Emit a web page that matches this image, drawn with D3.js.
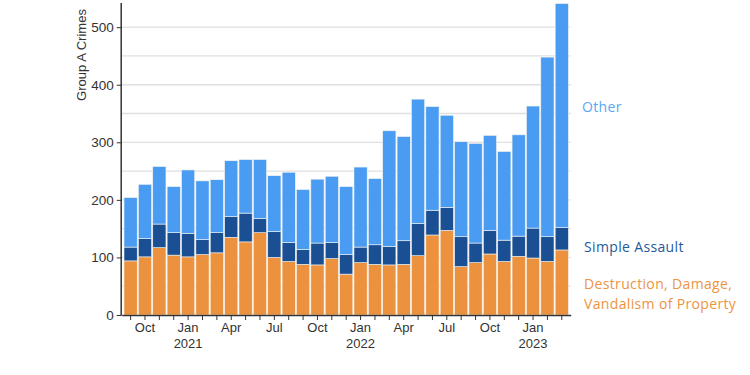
<!DOCTYPE html>
<html><head><meta charset="utf-8">
<script src="https://cdn.jsdelivr.net/npm/d3@7"></script>
<style>body{margin:0;background:#fff}svg{display:block}</style>
</head><body>
<svg id="chart" width="750" height="375"></svg>
<script>
const months = ["2020-09","2020-10","2020-11","2020-12","2021-01","2021-02","2021-03","2021-04","2021-05","2021-06","2021-07","2021-08","2021-09","2021-10","2021-11","2021-12","2022-01","2022-02","2022-03","2022-04","2022-05","2022-06","2022-07","2022-08","2022-09","2022-10","2022-11","2022-12","2023-01","2023-02","2023-03"];
const vandalism = [94,101,117,104,101,105,108,135,127,143,100,93,88,87,98,71,91,88,87,88,103,139,147,84,91,106,93,102,99,93,113];
const simpleAssault = [24,32,41,39,41,26,35,36,50,25,45,33,26,38,28,34,27,34,32,41,56,43,40,52,34,41,37,35,52,43,39];
const other = [86,94,100,80,110,102,92,97,93,102,97,122,104,111,115,118,139,115,201,181,216,180,160,165,173,165,154,176,212,312,389];
const seriesNames = ["Destruction, Damage,\nVandalism of Property","Simple Assault","Other"];
const colors = ["#ec913e","#1b4f94","#4a9cf3"];
const labelColors = ["#ec943f","#1f5a9c","#5aa6f2"];
const yTicks = [0,100,200,300,400,500];
const gridTicks = [50,100,150,200,250,300,350,400,450,500];

const svg = d3.select("#chart");
const mLeft = 121.7, mRight = 570.7, mTop = 3, mBottom = 315;

const data = months.map((m,i)=>({month:m, v0:vandalism[i], v1:simpleAssault[i], v2:other[i]}));
const stack = d3.stack().keys(["v0","v1","v2"]);
const series = stack(data);

const x = d3.scaleBand().domain(months).range([mLeft,mRight]).paddingInner(0.08).paddingOuter(0.16);
const y = d3.scaleLinear().domain([0,542]).range([mBottom,mTop]);

// gridlines
svg.append("g").selectAll("line").data(gridTicks).join("line")
  .attr("x1",mLeft).attr("x2",mRight)
  .attr("y1",d=>y(d)).attr("y2",d=>y(d))
  .attr("stroke","#e0e0e0").attr("stroke-width",1.3);

// bars
svg.append("g").selectAll("g").data(series).join("g")
  .attr("fill",(d,i)=>colors[i])
  .selectAll("rect").data(d=>d).join("rect")
  .attr("x",d=>x(d.data.month))
  .attr("width",x.bandwidth())
  .attr("y",d=>y(d[1]))
  .attr("height",d=>y(d[0])-y(d[1]))
  .attr("stroke","#f4f4ee").attr("stroke-width",0.6);

// y axis
const yAxis = d3.axisLeft(y).tickValues(yTicks).tickSize(5).tickPadding(3);
const gy = svg.append("g").attr("transform",`translate(${mLeft},0)`).call(yAxis);
gy.select(".domain").attr("stroke","#333").attr("stroke-width",1.5).attr("d",`M-0.5,${mTop}V${mBottom}`);
gy.selectAll(".tick line").attr("stroke","#333");
gy.selectAll(".tick text").attr("fill","#333").style("font-family","Liberation Sans, Arial, sans-serif").style("font-size","13.5px");

svg.append("text").attr("transform",`translate(86,55) rotate(-90)`)
  .attr("text-anchor","middle").attr("fill","#333")
  .style("font-family","Liberation Sans, Arial, sans-serif").style("font-size","13px")
  .text("Group A Crimes");

// x axis
const monthNames = {"01":"Jan","04":"Apr","07":"Jul","10":"Oct"};
const xAxis = d3.axisBottom(x).tickSize(5).tickSizeOuter(0).tickFormat(()=>"");
const gx = svg.append("g").attr("transform",`translate(0,${mBottom})`).call(xAxis);
gx.select(".domain").attr("stroke","#333").attr("stroke-width",1.5);
gx.selectAll(".tick line").attr("stroke","#333");
const labelMonths = months.filter(m=>monthNames[m.slice(5)]);
const xl = svg.append("g").style("font-family","Liberation Sans, Arial, sans-serif").style("font-size","13px").attr("fill","#333");
labelMonths.forEach(m=>{
  const cx = x(m)+x.bandwidth()/2;
  const t = xl.append("text").attr("text-anchor","middle").attr("x",cx).attr("y",332);
  t.append("tspan").attr("x",cx).text(monthNames[m.slice(5)]);
  if (m.slice(5)==="01") t.append("tspan").attr("x",cx).attr("dy",15.5).text(m.slice(0,4));
});

// series labels on the right
const labelY = [294, 247, 107];
const lg = svg.append("g").style("font-family","Open Sans, Lato, sans-serif").style("font-size","14px").style("letter-spacing","0.35px");
seriesNames.forEach((name,i)=>{
  const lines = name.split("\n");
  const lx = i===2?582:584;
  const t = lg.append("text").attr("x",lx).attr("y",labelY[i]+5 - (lines.length-1)*10)
    .attr("fill",labelColors[i]).style("font-weight","500");
  lines.forEach((ln,j)=>t.append("tspan").attr("x",lx).attr("dy",j?20:0).text(ln));
});
</script>
</body></html>
